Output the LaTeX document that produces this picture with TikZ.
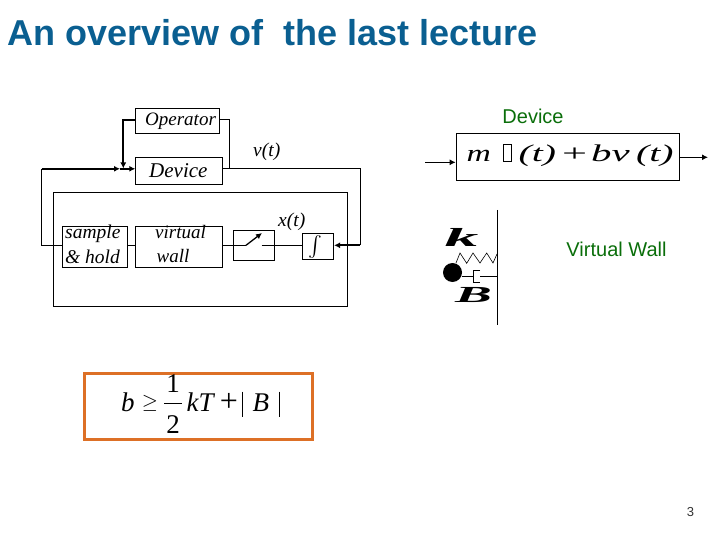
\documentclass[tikz,border=0pt]{standalone}
\usepackage{fontspec}
\usepackage{amsmath}
\setmainfont{Liberation Sans}
\newfontfamily\tnr{Liberation Serif}
\usetikzlibrary{arrows.meta}
\definecolor{titleblue}{RGB}{10,95,145}
\definecolor{greenlab}{RGB}{10,110,10}
\definecolor{orangebox}{RGB}{221,112,38}
\tikzset{
  blockbox/.style={draw=black,line width=0.8pt,fill=white,inner sep=0pt,anchor=north west},
  wire/.style={line width=0.8pt},
  thickwire/.style={line width=1.9pt},
  tip/.style={-{Latex[length=6pt,width=6pt]}},
  itlab/.style={font=\tnr\itshape\fontsize{19.5}{20}\selectfont,inner sep=0pt,anchor=base west},
  eqpart/.style={font=\tnr\itshape\fontsize{24}{24}\selectfont,inner sep=0pt,anchor=base west},
  condpart/.style={font=\tnr\fontsize{27}{27}\selectfont,inner sep=0pt,anchor=base west},
  greenlabel/.style={font=\fontsize{20}{20}\selectfont,text=greenlab,inner sep=0pt,anchor=base},
}
\begin{document}
\begin{tikzpicture}[x=1pt,y=-1pt]
\useasboundingbox (0,0) rectangle (720,540);
\node[anchor=base west,inner sep=0pt,text=titleblue,font=\bfseries\fontsize{36}{38}\selectfont] (title) at (7,46) {An overview of\ \ the last lecture};
% left diagram
\node[blockbox,minimum width=294pt,minimum height=114.5pt] (outer) at (53.3,191.7) {};
\node[blockbox,minimum width=83.4pt,minimum height=25pt] (operator) at (135.3,108.3) {};
\node[itlab,font=\tnr\itshape\fontsize{19}{19}\selectfont] (optext) at (145,125.7) {Operator};
\node[blockbox,minimum width=86.4pt,minimum height=27pt] (device) at (135.3,157.3) {};
\node[itlab,font=\tnr\itshape\fontsize{21}{21}\selectfont] (devtext) at (149,177.3) {Device};
\node[blockbox,minimum width=65pt,minimum height=41pt] (sample) at (62.3,226.3) {};
\node[itlab] (sampletext) at (65,238) {sample};
\node[itlab] (holdtext) at (65,263) {\& hold};
\node[blockbox,minimum width=86.4pt,minimum height=41pt] (wall) at (135.3,226.3) {};
\node[itlab,font=\tnr\itshape\fontsize{19}{19}\selectfont] (virtualtext) at (155,238) {virtual};
\node[itlab,font=\tnr\itshape\fontsize{19}{19}\selectfont] (walltext) at (156.5,262) {wall};
\node[blockbox,minimum width=41pt,minimum height=30.6pt] (switch) at (233.3,229.7) {};
\node[blockbox,minimum width=31pt,minimum height=26pt] (integ) at (302.3,233.3) {};
\node[inner sep=0pt,font=\fontsize{20}{20}\selectfont] (intsym) at (315.5,247.5) {$\int$};
\node[itlab] (vt) at (253,156.7) {v(t)};
\node[itlab] (xt) at (278,226.7) {x(t)};
\coordinate (opL) at (123.3,120.3);
\coordinate (opR) at (229.5,119);
\coordinate (opRd) at (229.5,168.3);
\coordinate (corner1) at (41.7,168.8);
\coordinate (corner2) at (41.7,245.3);
\coordinate (vR) at (360,168.3);
\coordinate (vRd) at (360,245.3);
\coordinate (swA) at (246,245.3);
\coordinate (swB) at (262,233);
\coordinate (swC) at (261.7,245.3);
\coordinate (midtip) at (120,168.8);
\coordinate (optip) at (123.3,168.5);
\draw[wire] (sample.west |- corner2) -- (corner2) -- (corner1);
\draw[thickwire,tip] (corner1) -- (midtip);
\draw[thickwire,tip] (midtip) -- (device.west |- midtip);
\draw[thickwire,tip] (operator.west |- opL) -- (opL) -- (optip);
\draw[wire] (operator.east |- opR) -- (opR) -- (opRd);
\draw[wire] (device.east |- vR) -- (vR) -- (vRd);
\draw[thickwire,tip] (vRd) -- (integ.east |- vRd);
\draw[wire] (sample.east |- swC) -- (wall.west |- swC);
\draw[wire] (wall.east |- swA) -- (swA);
\draw[wire] (swC) -- (integ.west |- swC);
\draw[line width=1.3pt,-{Latex[length=6pt,width=6pt]}] (swA) -- (swB);
% right diagram
\node[greenlabel] (devlab) at (533,124) {Device};
\node[blockbox,minimum width=223pt,minimum height=47.6pt] (eqbox) at (455.7,132.7) {};
\node[eqpart] (eqm) at (466.5,161.5) {\scalebox{1.4}[1]{m}};
\node[draw=black,line width=0.9pt,minimum width=8.5pt,minimum height=17pt,inner sep=0pt] (dotbox) at (507.5,152.5) {};
\node[eqpart] (eq1) at (518.5,161.5) {\scalebox{1.65}[1]{(t)}};
\node[eqpart,font=\tnr\fontsize{24}{24}\selectfont] (eqplus) at (562,161.5) {\scalebox{1.85}[1]{+}};
\node[eqpart] (eqbv) at (591,161.5) {\scalebox{1.7}[1]{bv}};
\node[eqpart] (eq2) at (636,161.5) {\scalebox{1.65}[1]{(t)}};
\coordinate (inL) at (425,162.3);
\coordinate (outR) at (708,157.3);
\draw[line width=1.3pt,tip] (inL) -- (eqbox.west |- inL);
\draw[line width=1.3pt,tip] (eqbox.east |- outR) -- (outR);
\node[greenlabel] (vwlab) at (616.5,256.5) {Virtual Wall};
\coordinate (wallT) at (497,210);
\coordinate (wallB) at (497,325);
\draw[wire] (wallT) -- (wallB);
\node[circle,fill=black,minimum size=19pt,inner sep=0pt] (mass) at (452.5,272.5) {};
\coordinate (sprS) at (456,263);
\coordinate (sprE) at (497,254);
\draw[line width=0.6pt] (sprS) -- (460,253) -- (466.7,263.3) -- (473,253) -- (480,263) -- (486.7,253) -- (493,263) -- (sprE);
\coordinate (dashL) at (473.3,276);
\coordinate (dashR) at (497,276);
\coordinate (dashP) at (480,276);
\draw[line width=0.7pt] (mass.east |- dashL) -- (dashL);
\draw[line width=0.7pt] (dashP) -- (dashR);
\draw[line width=0.7pt] (480,270.7) -- (473.3,270.7) -- (473.3,282.7) -- (480,282.7);
\node[inner sep=0pt,anchor=base,font=\tnr\bfseries\itshape\fontsize{26}{26}\selectfont] (klab) at (461.5,246) {\scalebox{2.6}[1]{k}};
\node[inner sep=0pt,anchor=base,font=\tnr\bfseries\itshape\fontsize{23}{23}\selectfont] (Blab) at (473.5,302) {\scalebox{2.4}[1]{B}};
% condition
\node[draw=orangebox,line width=2.7pt,minimum width=228pt,minimum height=66pt,inner sep=0pt,anchor=north west] (cond) at (83,372.3) {};
\node[condpart] (fb) at (121,411) {\textit{b}};
\node[inner sep=0pt,font=\fontsize{22}{22}\selectfont] (ge) at (150,403) {$\geq$};
\node[condpart,anchor=base] (one) at (173,392.3) {1};
\node[condpart,anchor=base] (two) at (173,433.3) {2};
\coordinate (fracL) at (164.3,403.3);
\coordinate (fracR) at (181.7,403.3);
\draw[line width=0.8pt] (fracL) -- (fracR);
\node[condpart] (kt) at (186.5,411) {\textit{kT}};
\node[condpart,font=\tnr\fontsize{32}{32}\selectfont,anchor=base] (plus) at (229,411) {+};
\node[condpart] (B) at (252.5,411) {\textit{B}};
\coordinate (a1) at (242.7,391.7); \coordinate (a2) at (242.7,417.3);
\coordinate (b1) at (279.3,391.7); \coordinate (b2) at (279.3,417.3);
\draw[line width=0.6pt] (a1) -- (a2) (b1) -- (b2);
\node[inner sep=0pt,font=\fontsize{13}{13}\selectfont,anchor=base,text=black!80] (page) at (690.5,516) {3};
\end{tikzpicture}
\end{document}
